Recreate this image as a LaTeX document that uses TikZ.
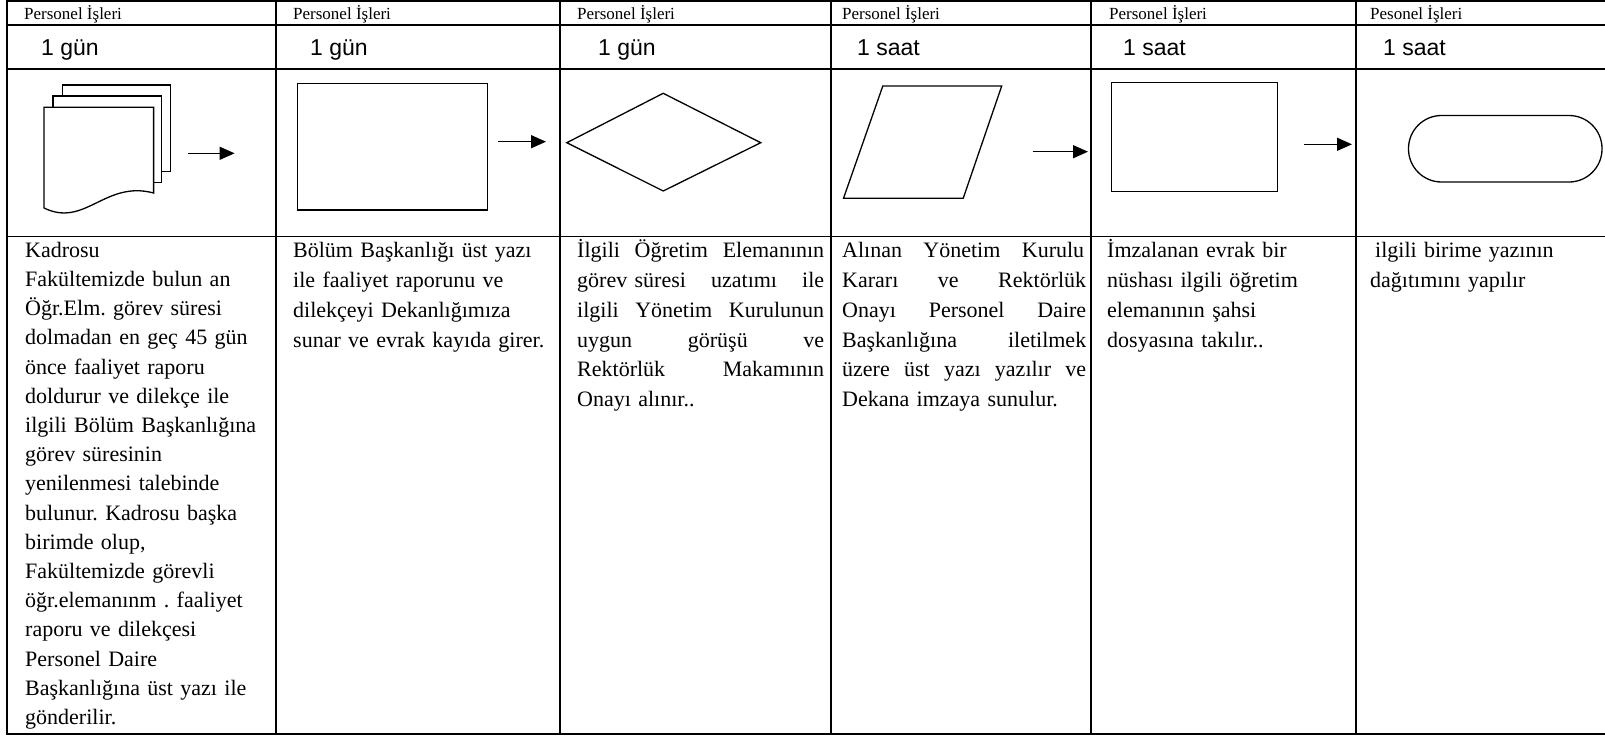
\documentclass[tikz,border=0pt]{standalone}
\usepackage{fontspec}
\setmainfont{Liberation Serif}
\newfontfamily\arialf{Liberation Sans}
\usetikzlibrary{arrows.meta}
\newcommand\spreadln[2]{\makebox[#1][l]{#2}}
\begin{document}
\frenchspacing
\begin{tikzpicture}[x=1pt,y=-1pt,
  gridline/.style={line width=1.8pt, line cap=rect},
  shp/.style={line width=1.3pt, fill=white, line join=miter},
  arr/.style={line width=1.4pt, -{Triangle[length=15pt,width=13pt]}},
  hdr/.style={anchor=base west, inner sep=0pt, font=\fontsize{17}{20}\selectfont},
  tm/.style={anchor=base west, inner sep=0pt, font=\arialf\fontsize{23}{27}\selectfont},
  body/.style={anchor=base west, inner sep=0pt, align=left, font=\fontsize{22}{29.9}\selectfont},
  bodyA/.style={anchor=base west, inner sep=0pt, align=left, font=\fontsize{22}{29.2}\selectfont},
]
\useasboundingbox (0,0) rectangle (1605,736);
\fill[white] (0,0) rectangle (1605,736);
% grid
\foreach \x in {7,276,560,831,1091,1356} \draw[gridline] (\x,1) -- (\x,734);
\foreach \y in {1,25,69,236.5,734} \draw[gridline] (7,\y) -- (1605,\y);
% headers
\node[hdr] (h1) at (24,19.5) {Personel İşleri};
\node[hdr] (h2) at (293,19.5) {Personel İşleri};
\node[hdr] (h3) at (577,19.5) {Personel İşleri};
\node[hdr] (h4) at (842,19.5) {Personel İşleri};
\node[hdr] (h5) at (1109,19.5) {Personel İşleri};
\node[hdr] (h6) at (1370,19.5) {Pesonel İşleri};
% times
\node[tm] (t1) at (41,55.5) {1 gün};
\node[tm] (t2) at (310,55.5) {1 gün};
\node[tm] (t3) at (598,55.5) {1 gün};
\node[tm] (t4) at (857,55.5) {1 saat};
\node[tm] (t5) at (1123,55.5) {1 saat};
\node[tm] (t6) at (1383,55.5) {1 saat};
% column 1: multi-document
\draw[shp] (62.5,85) rectangle (170.4,171.7);
\draw[shp] (52.9,96) rectangle (161.4,182.7);
\draw[shp] (44,107.3) -- (153.6,107.3) -- (153.6,193)
  .. controls (105,180) and (85,228) .. (44,208) -- cycle;
\coordinate (a1s) at (187.5,153.3);
\coordinate (a1e) at (234.6,153.3);
\draw[arr] (a1s) -- (a1e);
% column 2: process
\node[shp, draw, inner sep=0pt, minimum width=190.3pt, minimum height=126.7pt] (r2) at (392.6,146.7) {};
\coordinate (a2s) at (498,141.7);
\coordinate (a2e) at (546,141.7);
\draw[arr] (a2s) -- (a2e);
% column 3: decision
\coordinate (dL) at (566.8,142.7);
\coordinate (dT) at (663.2,93.3);
\coordinate (dR) at (760.7,142.7);
\coordinate (dB) at (663.2,191);
\draw[shp] (dL) -- (dT) -- (dR) -- (dB) -- cycle;
% column 4: data
\coordinate (pTL) at (882.8,86);
\coordinate (pTR) at (1001.7,86);
\coordinate (pBR) at (963.2,198.3);
\coordinate (pBL) at (843.5,198.3);
\draw[shp] (pTL) -- (pTR) -- (pBR) -- (pBL) -- cycle;
\coordinate (a4s) at (1032.8,151.7);
\coordinate (a4e) at (1088,151.7);
\draw[arr] (a4s) -- (a4e);
% column 5: process
\node[shp, draw, inner sep=0pt, minimum width=165.8pt, minimum height=109pt] (r5) at (1194.3,137.2) {};
\coordinate (a5s) at (1304.4,144.3);
\coordinate (a5e) at (1352,144.3);
\draw[arr] (a5s) -- (a5e);
% column 6: terminator
\draw[shp, rounded corners=33pt] (1408.5,115.5) rectangle (1602,182);
% body texts
\node[bodyA, text width=250pt] (b1) at (25,257.3) {Kadrosu\\
Fakültemizde bulun an\\
Öğr.Elm. görev süresi\\
dolmadan en geç 45 gün\\
önce faaliyet raporu\\
doldurur ve dilekçe ile\\
ilgili Bölüm Başkanlığına\\
görev süresinin\\
yenilenmesi talebinde\\
bulunur. Kadrosu başka\\
birimde olup,\\
Fakültemizde görevli\\
öğr.elemanınm . faaliyet\\
raporu ve dilekçesi\\
Personel Daire\\
Başkanlığına üst yazı ile\\
gönderilir.};
\node[body, text width=262pt] (b2) at (293,257.3) {Bölüm Başkanlığı üst yazı\\
ile faaliyet raporunu ve\\
dilekçeyi Dekanlığımıza\\
sunar ve evrak kayıda girer.};
\node[body, text width=250pt] (b3) at (577,257.3) {\spreadln{247pt}{İlgili\hfill Öğretim\hfill Elemanının}\\
\spreadln{247pt}{görev süresi\hfill uzatımı\hfill ile}\\
\spreadln{247pt}{ilgili\hfill Yönetim\hfill Kurulunun}\\
\spreadln{247pt}{uygun\hfill görüşü\hfill ve}\\
\spreadln{247pt}{Rektörlük\hfill Makamının}\\
Onayı alınır..};
\node[body, text width=250pt] (b4) at (842,257.3) {\spreadln{242pt}{Alınan\hfill Yönetim\hfill Kurulu}\\
\spreadln{244pt}{Kararı\hfill ve\hfill Rektörlük}\\
\spreadln{244pt}{Onayı\hfill Personel\hfill Daire}\\
\spreadln{244pt}{Başkanlığına\hfill iletilmek}\\
\spreadln{244pt}{üzere\hfill üst\hfill yazı\hfill yazılır\hfill ve}\\
Dekana imzaya sunulur.};
\node[body, text width=245pt] (b5) at (1107,257.3) {İmzalanan evrak bir\\
nüshası ilgili öğretim\\
elemanının şahsi\\
dosyasına takılır..};
\node[body, text width=235pt] (b6) at (1370,257.3) {\hspace*{5pt}ilgili birime yazının\\
dağıtımını yapılır};
\end{tikzpicture}
\end{document}
